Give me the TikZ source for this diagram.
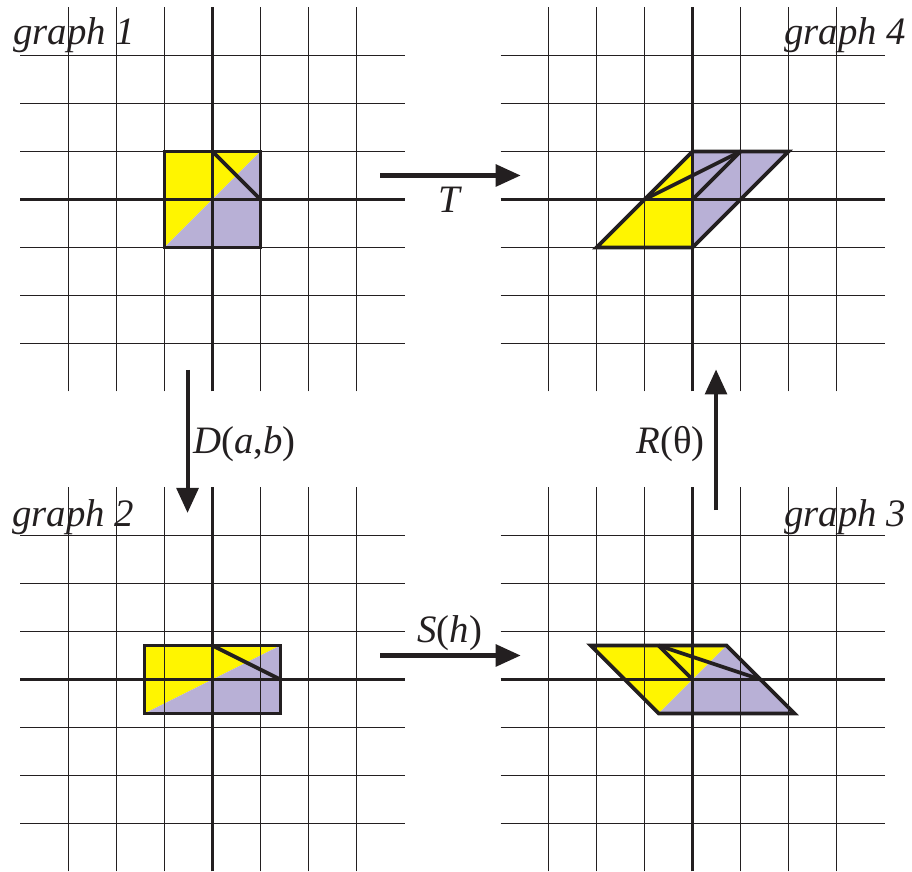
\documentclass[tikz,border=0pt]{standalone}
\usepackage{fontspec}
\setmainfont{Liberation Serif}
\usetikzlibrary{arrows.meta,positioning}
\definecolor{Ink}{HTML}{231F20}
\definecolor{Lemon}{HTML}{FFF500}
\definecolor{Lilac}{HTML}{B8B0D6}

\begin{document}
\begin{tikzpicture}[
  gridline/.style={Ink,line width=0.95pt},
  axisline/.style={Ink,line width=2pt},
  outline/.style={Ink,line width=2.2pt,line join=miter},
  maparrow/.style={Ink,line width=2.4pt,-{Triangle[length=0.52cm,width=0.45cm]}},
  lbl/.style={inner sep=0pt,text=Ink,font=\fontsize{23}{27}\selectfont}
]
  \useasboundingbox (-4.427,-14.01) rectangle (14.573,4.156);
  % fills
  \fill[Lemon] (-1,-1) -- (-1,1) -- (1,1) -- cycle;
  \fill[Lilac] (-1,-1) -- (1,-1) -- (1,1) -- cycle;
  \begin{scope}[shift={(10,0)}]
    \fill[Lemon] (-2,-1) -- (0,-1) -- (0,1) -- cycle;
    \fill[Lilac] (0,-1) -- (2,1) -- (0,1) -- cycle;
  \end{scope}
  \begin{scope}[shift={(0,-10)}]
    \fill[Lemon] (-1.4142,-0.7071) -- (-1.4142,0.7071) -- (1.4142,0.7071) -- cycle;
    \fill[Lilac] (-1.4142,-0.7071) -- (1.4142,-0.7071) -- (1.4142,0.7071) -- cycle;
  \end{scope}
  \begin{scope}[shift={(10,-10)}]
    \fill[Lemon] (-0.7071,-0.7071) -- (-2.1213,0.7071) -- (0.7071,0.7071) -- cycle;
    \fill[Lilac] (-0.7071,-0.7071) -- (2.1213,-0.7071) -- (0.7071,0.7071) -- cycle;
  \end{scope}
  % grids
  \foreach \ox/\oy in {0/0,10/0,0/-10,10/-10}{
    \begin{scope}[shift={(\ox,\oy)}]
      \foreach \k in {-3,-2,-1,1,2,3}{
        \draw[gridline] (-4,\k) -- (4,\k);
        \draw[gridline] (\k,-4) -- (\k,4);
      }
      \draw[axisline] (-4,0) -- (4,0);
      \draw[axisline] (0,-4) -- (0,4);
    \end{scope}
  }
  % outlines
  \draw[outline] (-1,-1) rectangle (1,1);
  \draw[outline] (0,1) -- (1,0);
  \begin{scope}[shift={(10,0)}]
    \draw[outline] (-2,-1) -- (0,-1) -- (2,1) -- (0,1) -- cycle;
    \draw[outline] (-1,0) -- (1,1);
    \draw[outline] (0,0) -- (1,1);
  \end{scope}
  \begin{scope}[shift={(0,-10)}]
    \draw[outline] (-1.4142,-0.7071) rectangle (1.4142,0.7071);
    \draw[outline] (0,0.7071) -- (1.4142,0);
  \end{scope}
  \begin{scope}[shift={(10,-10)}]
    \draw[outline] (-2.1213,0.7071) -- (0.7071,0.7071) -- (2.1213,-0.7071) -- (-0.7071,-0.7071) -- cycle;
    \draw[outline] (-0.7071,0.7071) -- (1.4142,0);
    \draw[outline] (-0.7071,0.7071) -- (0,0);
  \end{scope}
  % maps
  \coordinate (Tfrom) at (3.49,0.5);
  \coordinate (Tto) at (6.42,0.5);
  \coordinate (Dfrom) at (-0.52,-3.55);
  \coordinate (Dto) at (-0.52,-6.53);
  \coordinate (Sfrom) at (3.49,-9.5);
  \coordinate (Sto) at (6.42,-9.5);
  \coordinate (Rfrom) at (10.49,-6.47);
  \coordinate (Rto) at (10.49,-3.54);
  \draw[maparrow] (Tfrom) -- (Tto);
  \draw[maparrow] (Dfrom) -- (Dto);
  \draw[maparrow] (Sfrom) -- (Sto);
  \draw[maparrow] (Rfrom) -- (Rto);
  \node[lbl,anchor=base] (Tlab) at (4.96,-0.28) {\textit{T}};
  \node[lbl,anchor=base west] (Dlab) at (-0.406,-5.29) {\textit{D}(\textit{a},\textit{b})};
  \node[lbl,anchor=base] (Slab) at (4.94,-9.22) {\textit{S}(\textit{h})};
  \node[lbl,anchor=base east] (Rlab) at (10.26,-5.29) {\textit{R}(θ)};
  % titles
  \node[lbl,anchor=base west] (graphA) at (-4.156,3.219) {\textit{graph 1}};
  \node[lbl,anchor=base west] (graphB) at (-4.177,-6.817) {\textit{graph 2}};
  \node[lbl,anchor=base east] (graphC) at (14.46,-6.817) {\textit{graph 3}};
  \node[lbl,anchor=base east] (graphD) at (14.46,3.219) {\textit{graph 4}};
\end{tikzpicture}
\end{document}
